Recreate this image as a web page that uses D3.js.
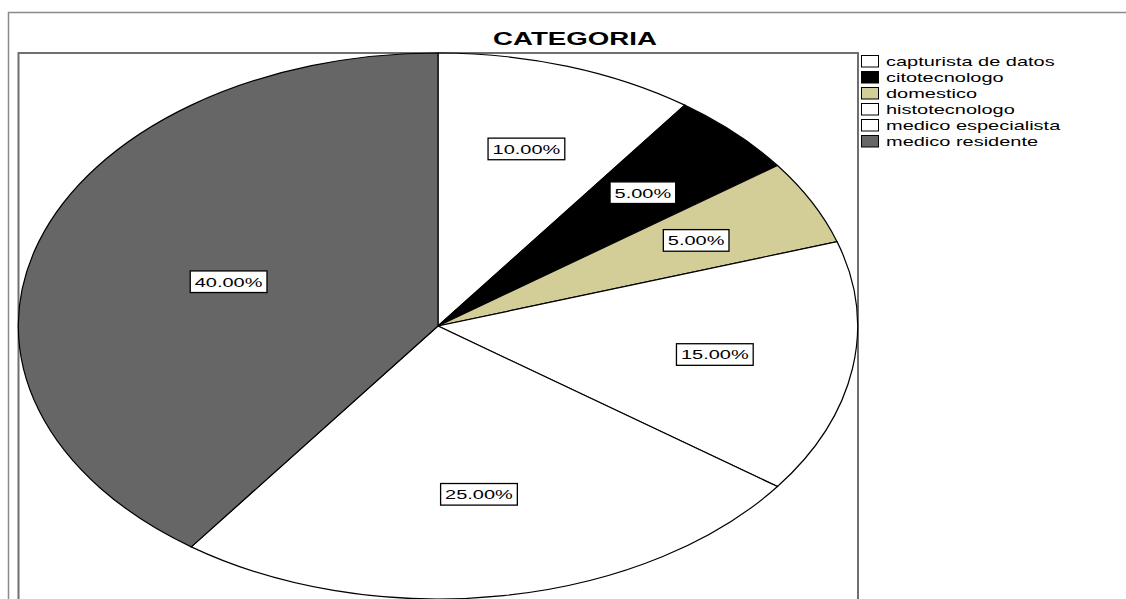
<!DOCTYPE html>
<html>
<head>
<meta charset="utf-8">
<script src="https://cdn.jsdelivr.net/npm/d3@7"></script>
<style>
  body { margin: 0; background: #fff; }
  svg { display: block; font-family: "Liberation Sans", Arial, sans-serif; }
</style>
</head>
<body>
<svg id="chart" width="1126" height="599"></svg>
<script>
// data
const categories = ['capturista de datos', 'citotecnologo', 'domestico', 'histotecnologo', 'medico especialista', 'medico residente'];
const percents = [10, 5, 5, 15, 25, 40];
const colors = ['#ffffff', '#000000', '#d3cd98', '#ffffff', '#ffffff', '#666666'];

const svg = d3.select('#chart');
// the picture is stretched sideways, so text is too
const SX = 1.537;
const cx = 438, cy = 326, ry = 273, rx = ry * SX;

// frames
svg.append('rect')
  .attr('x', 8.5).attr('y', 12.5).attr('width', 1200).attr('height', 700)
  .attr('fill', 'none').attr('stroke', '#8a8a8a').attr('stroke-width', 1.5);
svg.append('rect')
  .attr('x', 18.5).attr('y', 53).attr('width', 839.5).attr('height', 700)
  .attr('fill', 'none').attr('stroke', '#6f6f6f').attr('stroke-width', 2);

svg.append('text')
  .attr('transform', `translate(575,45) scale(${SX},1)`)
  .attr('text-anchor', 'middle')
  .attr('font-size', 18).attr('font-weight', 'bold')
  .text('CATEGORIA');

const rows = categories.map((c, i) => ({ name: c, value: percents[i], color: colors[i] }));

const pie = d3.pie().sort(null).value(d => d.value);
const arcs = pie(rows);
const arc = d3.arc().innerRadius(0).outerRadius(1);

const pieG = svg.append('g')
  .attr('transform', `translate(${cx},${cy}) scale(${rx},${ry})`);

pieG.selectAll('path')
  .data(arcs)
  .join('path')
  .attr('d', arc)
  .attr('fill', d => d.data.color)
  .attr('stroke', '#000')
  .attr('stroke-width', 1.2)
  .attr('vector-effect', 'non-scaling-stroke');

// labels at sector centroid
const labels = svg.append('g').selectAll('g')
  .data(arcs)
  .join('g')
  .attr('transform', d => {
    const a = (d.endAngle - d.startAngle) / 2;
    const mid = (d.startAngle + d.endAngle) / 2;
    const r = 1.04 * (2 / 3) * Math.sin(a) / a;
    return `translate(${cx + rx * r * Math.sin(mid)},${cy - ry * r * Math.cos(mid)})`;
  });

labels.each(function (d) {
  const g = d3.select(this);
  const rect = g.append('rect');
  const t = g.append('text')
    .attr('transform', `translate(0,4.8) scale(${SX},1)`)
    .attr('text-anchor', 'middle')
    .attr('font-size', 13)
    .text(d3.format('.2f')(d.data.value) + '%');
  const w = t.node().getBBox().width * SX + 9;
  rect.attr('x', -w / 2).attr('y', -10.8).attr('width', w).attr('height', 21.6)
    .attr('fill', '#fff').attr('stroke', '#000').attr('stroke-width', 1.3);
});

// legend
const legend = svg.append('g').selectAll('g')
  .data(rows)
  .join('g')
  .attr('transform', (d, i) => `translate(861,${55 + i * 16})`);

legend.append('rect')
  .attr('x', 0.5).attr('y', 0.5).attr('width', 17).attr('height', 11.5)
  .attr('fill', d => d.color)
  .attr('stroke', '#000').attr('stroke-width', 1);

legend.append('text')
  .attr('transform', `translate(25,11.3) scale(${SX},1)`)
  .attr('font-size', 13)
  .text(d => d.name);
</script>
</body>
</html>
